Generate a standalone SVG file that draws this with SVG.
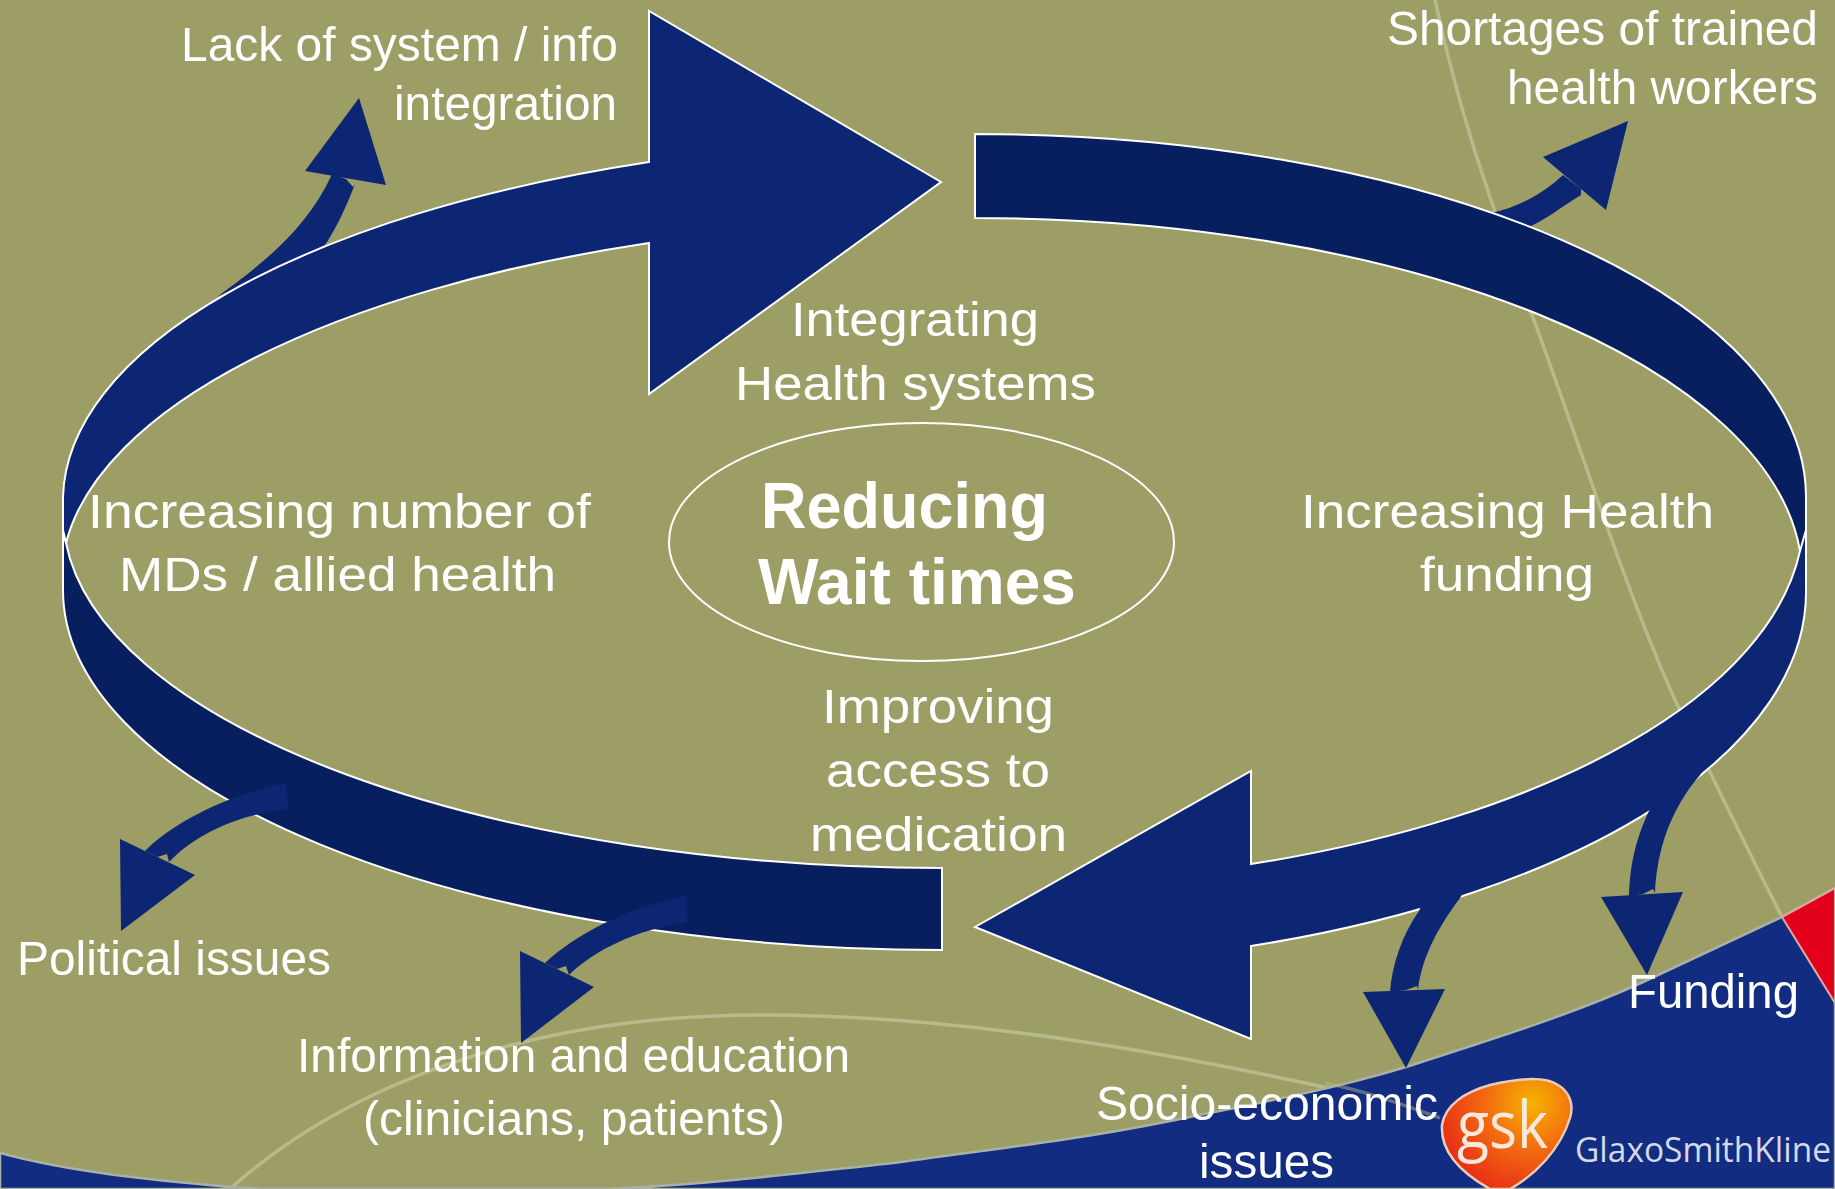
<svg xmlns="http://www.w3.org/2000/svg" width="1835" height="1189" viewBox="0 0 1835 1189">
<defs>
<radialGradient id="gskFill" gradientUnits="userSpaceOnUse" cx="1532" cy="1103" r="105">
<stop offset="0" stop-color="#F6B400"/><stop offset="0.45" stop-color="#F26A10"/><stop offset="1" stop-color="#E62318"/>
</radialGradient>
</defs>
<style>
text{font-family:"Liberation Sans",Arial,sans-serif;fill:#fff;font-size:49px}
.b{font-weight:bold;font-size:65px}
.band{stroke:#fff;stroke-width:2;stroke-linejoin:miter}
.head{fill:#0D2673}
.dark{fill:#071F5E}
.small{fill:#0D2673;stroke:none}
.deco{fill:none;stroke:#B7BA8A;stroke-width:3.5}
</style>
<rect width="1835" height="1189" fill="#9C9E66"/>
<g id="background">
<path class="deco" d="M1435,0 C1450,70 1470,140 1491,200 C1505,240 1518,280 1532,315 C1575,430 1625,590 1675,700 C1710,772 1745,845 1782,917"/>
<path class="deco" d="M230,1189 C340,1090 520,1015 760,1015 C970,1015 1190,1055 1412,1107"/>
<path d="M0,1153 C70,1172 150,1180 232,1187 C300,1192 500,1196 625,1188 C720,1183 800,1173 893,1163 C985,1150 1075,1140 1160,1123 C1250,1105 1330,1090 1406,1067 C1490,1040 1570,1015 1641,983 L1782,917 L1835,888 V1189 H0 Z" fill="#122C82" stroke="#A9B1A6" stroke-width="2.5"/>
<path class="deco" style="stroke-opacity:.45" d="M1325,1083 C1360,1090 1390,1100 1440,1118"/>
<path d="M1782,917 L1835,888 V1003 Z" fill="#E2001A" stroke="#D9A8A0" stroke-width="2"/>
</g>
<g id="connectors">
<g id="arrow-lack">
<path class="small" d="M217,297 C250,272 305,235 332,174 L346,179 L353,187 L355,184 C345,210 335,230 325,245 Z"/>
<path class="small" d="M359,98 L305,171 L386,185 Z"/>
</g>
<g id="arrow-shortages">
<path class="small" d="M1491,213 C1520,207 1545,192 1563,175 L1576,185 L1581,189 L1581,195 C1560,208 1545,220 1527,228 Z"/>
<path class="small" d="M1628,121 L1543,157 L1606,210 Z"/>
</g>
<path id="band-right" class="band dark" d="M975,134 A831,363 0 0 1 1806,497 L1806,555 L1800,551 A827,360 0 0 0 975,218 Z"/>
<path id="band-left" class="band dark" d="M942,868 A879,353 0 0 1 66,543 L63,530 L63,590 A879,360 0 0 0 942,950 Z"/>
<path id="arrow-top" class="band head" d="M66,543 A913,360 0 0 1 649,243 L649,394 L941,182 L649,11 L649,162 A912,363 0 0 0 63,497 L63,530 Z"/>
<path id="arrow-bottom" class="band head" d="M1800,551 L1806,530 L1806,590 A831,375 0 0 1 1251,946 L1251,1039 L975,927 L1251,771 L1251,864 A829,370 0 0 0 1800,551 Z"/>
<g id="arrow-political">
<path class="small" d="M286,783 C225,795 170,825 145,851 L157.5,857 L167,854 L169,862 C195,835 235,815 288,809 Z"/>
<path class="small" d="M120,839 L195,875 L121,931 Z"/>
</g>
<g id="arrow-info">
<path class="small" d="M686,896 C625,908 575,935 545,963 L557,969 L566,966 L569,975 C595,950 635,930 687,922 Z"/>
<path class="small" d="M520,951 L594,987 L521,1043 Z"/>
</g>
<g id="arrow-socio">
<path class="small" d="M1419,911 C1402,935 1392,965 1390,992 L1406,990 L1417,986 L1418,990 C1422,955 1440,925 1460,898 L1470,880 L1430,885 Z"/>
<path class="small" d="M1363,992 L1445,989 L1406,1068 Z"/>
</g>
<g id="arrow-funding">
<path class="small" d="M1648,813 C1638,835 1630,860 1629,896 L1643,894 L1653,889 L1655,893 C1657,850 1670,810 1700,775 L1710,760 L1660,790 Z"/>
<path class="small" d="M1601,897 L1683,892 L1647,975 Z"/>
</g>
</g>
<g id="node-center">
<ellipse cx="921.5" cy="542" rx="252.5" ry="119" fill="none" stroke="#fff" stroke-width="2"/>
<text class="b" x="761" y="528" textLength="287" lengthAdjust="spacingAndGlyphs">Reducing</text>
<text class="b" x="758" y="604" textLength="318" lengthAdjust="spacingAndGlyphs">Wait times</text>
</g>
<g id="node-integrating">
<text x="791" y="336" textLength="248" lengthAdjust="spacingAndGlyphs">Integrating</text>
<text x="735" y="400" textLength="361" lengthAdjust="spacingAndGlyphs">Health systems</text>
</g>
<g id="node-funding">
<text x="1301" y="528" textLength="413" lengthAdjust="spacingAndGlyphs">Increasing Health</text>
<text x="1420" y="591" textLength="174" lengthAdjust="spacingAndGlyphs">funding</text>
</g>
<g id="node-access">
<text x="822" y="723" textLength="232" lengthAdjust="spacingAndGlyphs">Improving</text>
<text x="826" y="787" textLength="224" lengthAdjust="spacingAndGlyphs">access to</text>
<text x="810" y="851" textLength="257" lengthAdjust="spacingAndGlyphs">medication</text>
</g>
<g id="node-mds">
<text x="88" y="528" textLength="503" lengthAdjust="spacingAndGlyphs">Increasing number of</text>
<text x="119" y="591" textLength="437" lengthAdjust="spacingAndGlyphs">MDs / allied health</text>
</g>
<g id="label-lack">
<text x="181" y="61" textLength="437" lengthAdjust="spacingAndGlyphs">Lack of system / info</text>
<text x="394" y="120" textLength="223" lengthAdjust="spacingAndGlyphs">integration</text>
</g>
<g id="label-shortages">
<text x="1387" y="45" textLength="431" lengthAdjust="spacingAndGlyphs">Shortages of trained</text>
<text x="1507" y="104" textLength="311" lengthAdjust="spacingAndGlyphs">health workers</text>
</g>
<g id="label-political">
<text x="17" y="975" textLength="314" lengthAdjust="spacingAndGlyphs">Political issues</text>
</g>
<g id="label-info">
<text x="297" y="1072" textLength="553" lengthAdjust="spacingAndGlyphs">Information and education</text>
<text x="363" y="1135" textLength="422" lengthAdjust="spacingAndGlyphs">(clinicians, patients)</text>
</g>
<g id="label-funding">
<text x="1628" y="1008" textLength="171" lengthAdjust="spacingAndGlyphs">Funding</text>
</g>
<g id="label-socio">
<text x="1096" y="1120" textLength="342" lengthAdjust="spacingAndGlyphs">Socio-economic</text>
<text x="1199" y="1178" textLength="135" lengthAdjust="spacingAndGlyphs">issues</text>
</g>
<g id="logo">
<path d="M1442,1125 C1445,1105 1465,1092 1490,1085 C1520,1078 1545,1076 1558,1085 C1570,1092 1574,1105 1570,1118 C1560,1150 1535,1175 1510,1189 L1490,1189 C1465,1175 1440,1155 1442,1125 Z" fill="url(#gskFill)" stroke="#EBCDB8" stroke-width="2.5"/>
<text x="1457" y="1148" style="font-family:'Open Sans',sans-serif;font-size:66px;fill:#FBE8DC" textLength="91" lengthAdjust="spacingAndGlyphs">gsk</text>
<text x="1575" y="1162" style="font-family:'Open Sans',sans-serif;font-size:34px;fill:#D5DAE8" textLength="256" lengthAdjust="spacingAndGlyphs">GlaxoSmithKline</text>
</g>
</svg>
